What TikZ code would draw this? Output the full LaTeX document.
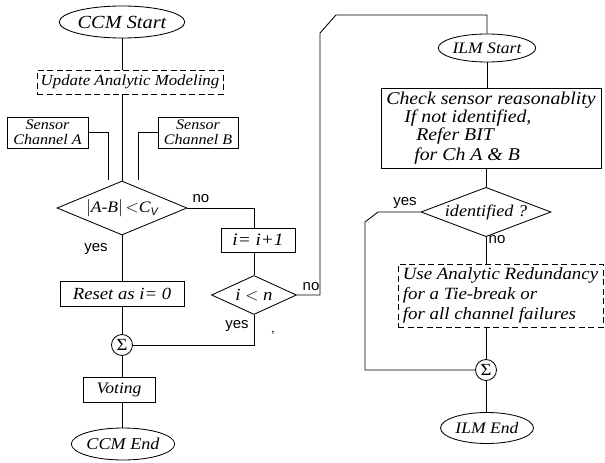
\documentclass[tikz,border=0pt]{standalone}
\usepackage{fontspec}
\setmainfont[FakeStretch=1.1]{Liberation Serif}
\setsansfont{Liberation Sans}
\usetikzlibrary{shapes.geometric}
\newcommand{\fsz}[1]{\fontsize{#1}{#1}\selectfont\itshape}
\tikzset{
  ln/.style={line width=0.85pt},
  box/.style={draw, line width=0.85pt, inner sep=0pt, font=\fsz{16}},
  dbox/.style={box, dash pattern=on 6pt off 3.5pt},
  term/.style={ellipse, draw, line width=0.85pt, inner sep=0pt, font=\fsz{16}},
  dec/.style={diamond, draw, line width=0.85pt, inner sep=0pt, aspect=2.4, font=\fsz{16}},
  sumc/.style={circle, draw, line width=0.85pt, inner sep=0pt, minimum size=21pt, font=\fontsize{17}{17}\selectfont\upshape},
  lab/.style={font=\fontsize{15}{15}\selectfont\sffamily, inner sep=0pt},
}
\begin{document}
\begin{tikzpicture}[x=1pt,y=-1pt]
\useasboundingbox (0,0) rectangle (605,463);
% left column
\node[term, minimum width=95, minimum height=32, font=\fsz{18.5}] (ccms) at (122,22) {CCM Start};
\node[dbox, minimum width=186, minimum height=24, font=\fsz{15.3}] (upd) at (130,82) {Update Analytic Modeling};
\node[box, minimum width=81, minimum height=31, align=center, font=\fontsize{14.6}{15}\selectfont\itshape] (sa) at (47.5,132.5) {Sensor\\Channel A};
\node[box, minimum width=80, minimum height=31, align=center, font=\fontsize{14.6}{15}\selectfont\itshape] (sb) at (198,132.5) {Sensor\\Channel B};
\node[dec, minimum width=130, minimum height=54] (d1) at (122,208) {$\bigl|$\textit{A-B}$\bigr|$\,$<$\textit{C}\raisebox{-3pt}{\textsf{\fontsize{11}{11}\selectfont V}}};
\node[box, minimum width=74, minimum height=24, font=\fsz{17.5}] (inc) at (258,240) {\textit{i}= \textit{i}+\textit{1}};
\node[dec, minimum width=85, minimum height=39, font=\fsz{17}] (d2) at (254,295) {\textit{i} $<$ \textit{n}};
\node[box, minimum width=124, minimum height=25, font=\fsz{17}] (reset) at (122,293.5) {Reset as i= 0};
\node[sumc] (sig1) at (122,345) {Σ};
\node[box, minimum width=72, minimum height=25] (vote) at (119,389.5) {Voting};
\node[term, minimum width=93, minimum height=32, font=\fsz{16.5}] (ccme) at (123,444) {CCM End};
\coordinate (ja) at (108,180);
\coordinate (jb) at (138,180);
\coordinate (c1) at (320,33);
\coordinate (c2) at (336,15);
% right column
\node[term, minimum width=90, minimum height=28] (ilms) at (487,48) {ILM Start};
\node[box, minimum width=220, minimum height=80, align=left, font=\fontsize{18}{18}\selectfont\itshape] (chk) at (491,128)
  {Check sensor reasonablity\\\hspace*{18pt}If not identified,\\\hspace*{30pt}Refer BIT\\[1.5pt]\hspace*{28pt}for Ch A \& B};
\node[dec, minimum width=130, minimum height=40, font=\fsz{16.5}] (d3) at (486,212) {identified ?};
\node[dbox, minimum width=205, minimum height=63, align=left, font=\fontsize{17.2}{20}\selectfont\itshape] (use) at (500.5,295.5)
  {Use Analytic Redundancy\\for a Tie-break or\\for all channel failures};
\node[sumc] (sig2) at (486,370) {Σ};
\node[term, minimum width=93, minimum height=31] (ilme) at (487,428) {ILM End};
\coordinate (c3) at (378,212);
\coordinate (c4) at (365,222);
% connectors
\draw[ln] (ccms.south) -- (ccms.south |- upd.north);
\draw[ln] (d1.north |- upd.south) -- (d1.north);
\draw[ln] (sa.east) -| (ja);
\draw[ln] (sb.west) -| (jb);
\draw[ln] (d1.east) -| (d2.north |- inc.north);
\draw[ln] (d2.north |- inc.south) -- (d2.north);
\draw[ln] (d2.east) -| (c1) -- (c2) -| (ilms.north);
\draw[ln] (d2.south) |- (sig1.east);
\draw[ln] (d1.south) -- (reset.north);
\draw[ln] (reset.south) -- (sig1.north);
\draw[ln] (sig1.south) -- (sig1.south |- vote.north);
\draw[ln] (sig1.south |- vote.south) -- (ccme.north -| sig1.south);
\draw[ln] (ilms.south) -- (ilms.south |- chk.north);
\draw[ln] (d3.north |- chk.south) -- (d3.north);
\draw[ln] (d3.west) -- (c3) -- (c4) |- (sig2.west);
\draw[ln] (d3.south) -- (d3.south |- use.north);
\draw[ln] (sig2.north |- use.south) -- (sig2.north);
\draw[ln] (sig2.south) -- (ilme.north -| sig2.south);
% labels
\node[lab] (l1) at (201,199) {no};
\node[lab] (l2) at (96,249) {yes};
\node[lab] (l3) at (311,287) {no};
\node[lab] (l4) at (237,326) {yes};
\node[lab] (l5) at (405,203) {yes};
\node[lab] (l6) at (497,240) {no};
\node[font=\fontsize{12}{12}\selectfont, inner sep=0pt] (dot) at (273,333) {,};
\end{tikzpicture}
\end{document}
